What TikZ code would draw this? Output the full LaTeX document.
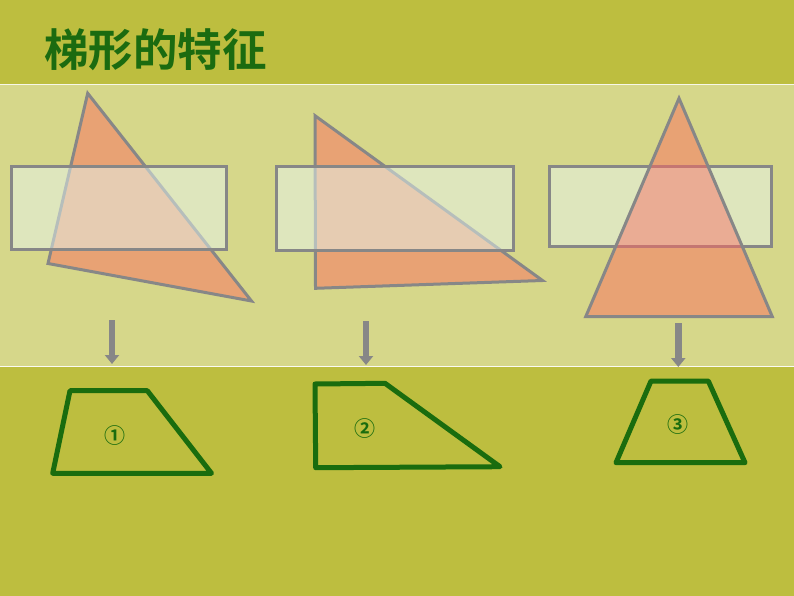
\documentclass[tikz,border=0pt]{standalone}
\usepackage{fontspec}
\newfontfamily\cjk{Noto Sans CJK SC}[BoldFont={Noto Sans CJK SC Bold}]
\usetikzlibrary{arrows.meta}
\definecolor{olive}{HTML}{BDBE3F}
\definecolor{lightband}{HTML}{D6D78A}
\definecolor{titlegreen}{HTML}{1B6B10}
\definecolor{shapegreen}{HTML}{1A6C0E}
\definecolor{edgegray}{HTML}{878787}
\definecolor{trifill}{HTML}{E8A274}
\definecolor{rectfill}{HTML}{E6F6F0}
\definecolor{pinkfill}{HTML}{EAAC94}
\definecolor{redgray}{HTML}{C47672}
\tikzset{
  tri/.style={draw=edgegray, line width=3pt, fill=trifill, line join=miter},
  coverrect/.style={draw=edgegray, line width=3pt, fill=rectfill, fill opacity=0.5},
  trap/.style={draw=shapegreen, line width=5pt, line join=round},
  downarrow/.style={draw=edgegray, line width=6.5pt, -{Triangle[width=14pt,length=9pt]}},
  numlabel/.style={text=shapegreen, font=\cjk\bfseries\fontsize{21}{21}\selectfont, inner sep=0pt},
}
\begin{document}
\begin{tikzpicture}[x=1pt,y=-1pt]
\useasboundingbox (0,0) rectangle (794,596);
% backgrounds
\fill[olive] (0,0) rectangle (794,596);
\fill[lightband] (0,85) rectangle (794,366);
\draw[white!80!lightband, line width=1.2pt] (0,84.6) -- (794,84.6);
\draw[white!90!lightband, line width=1.2pt] (0,366.4) -- (794,366.4);
% title
\node[anchor=west, inner sep=0pt, text=titlegreen, font=\cjk\bfseries\fontsize{44.5}{44.5}\selectfont] (title) at (44,50) {梯形的特征};
% shape 1
\draw[tri] (87.7,93.3) -- (48,263.5) -- (251.5,301) -- cycle;
\draw[coverrect] (11.7,166.7) rectangle (226.7,249.5);
% shape 2
\draw[tri] (315,115.7) -- (315.5,288.3) -- (542.5,280.5) -- cycle;
\draw[coverrect] (276.7,166.7) rectangle (513.3,250.5);
% shape 3
\draw[coverrect] (549,166.7) rectangle (771.7,246.7);
\fill[trifill] (679,98.3) -- (585.7,316.7) -- (772.3,316.7) -- cycle;
\begin{scope}
  \clip (679,98.3) -- (585.7,316.7) -- (772.3,316.7) -- cycle;
  \fill[pinkfill] (549,166.7) rectangle (771.7,246.7);
  \draw[redgray, line width=3pt] (549,166.7) rectangle (771.7,246.7);
\end{scope}
\draw[draw=edgegray, line width=3pt, line join=miter] (679,98.3) -- (585.7,316.7) -- (772.3,316.7) -- cycle;
% arrows
\coordinate (a1s) at (112,320);
\coordinate (a1e) at (112,364);
\coordinate (a2s) at (366,321);
\coordinate (a2e) at (366,365);
\coordinate (a3s) at (678.3,323);
\coordinate (a3e) at (678.3,367);
\draw[downarrow] (a1s) -- (a1e);
\draw[downarrow] (a2s) -- (a2e);
\draw[downarrow] (a3s) -- (a3e);
% trapezoids
\draw[trap] (70,390.7) -- (147.3,390.7) -- (211.5,473.3) -- (52.7,473.3) -- cycle;
\node[numlabel] (n1) at (115,436) {①};
\draw[trap] (315,384) -- (385,383.3) -- (500,466.7) -- (315.7,467.7) -- cycle;
\node[numlabel] (n2) at (365,429) {②};
\draw[trap] (651,381) -- (708.3,381) -- (745,462.7) -- (616,462.7) -- cycle;
\node[numlabel] (n3) at (678.3,425) {③};
\end{tikzpicture}
\end{document}
